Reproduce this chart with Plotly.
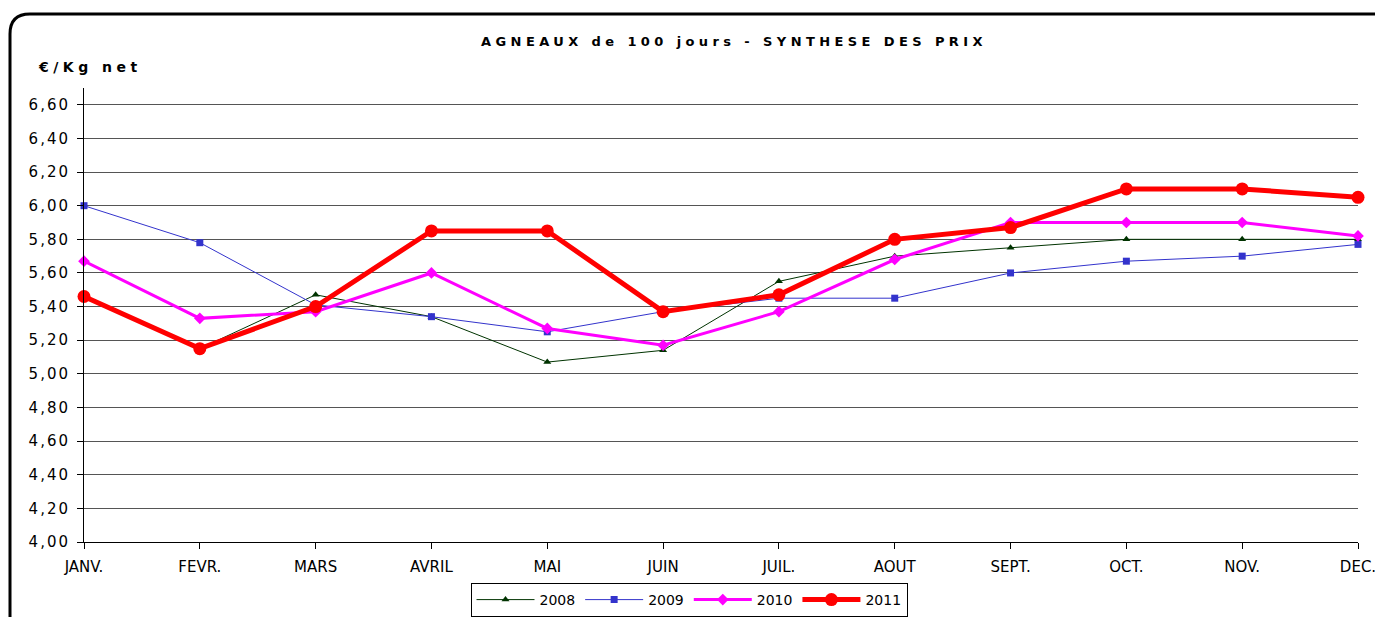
import plotly.graph_objects as go

# mois et prix (€/Kg net)
mois = ["JANV.", "FEVR.", "MARS", "AVRIL", "MAI", "JUIN",
        "JUIL.", "AOUT", "SEPT.", "OCT.", "NOV.", "DEC."]
prix_2008 = [5.46, 5.15, 5.47, 5.34, 5.07, 5.14, 5.55, 5.70, 5.75, 5.80, 5.80, 5.80]
prix_2009 = [6.00, 5.78, 5.41, 5.34, 5.25, 5.37, 5.45, 5.45, 5.60, 5.67, 5.70, 5.77]
prix_2010 = [5.67, 5.33, 5.37, 5.60, 5.27, 5.17, 5.37, 5.68, 5.90, 5.90, 5.90, 5.82]
prix_2011 = [5.46, 5.15, 5.40, 5.85, 5.85, 5.37, 5.47, 5.80, 5.87, 6.10, 6.10, 6.05]

y_ticks = [4.0 + 0.2 * i for i in range(14)]
y_labels = [f"{v:.2f}".replace(".", ",") for v in y_ticks]

# la page html ajoute 8px de marge : on decale tout
OFF = 8
W, H = 1383 - OFF, 617 - OFF
LBL = 70                      # bord droit des etiquettes de l'axe y (ref)
L, T = LBL - OFF, 88 - OFF
R = W - (1358 - OFF)
B = H - (542 - OFF)
pw, ph = W - L - R, H - T - B
dom0 = (84 - LBL) / pw        # debut de la zone de trace


def px(x, y):
    # pixel (image de reference) -> paper
    return (x - OFF - L) / pw, (H - B - (y - OFF)) / ph


def cont(x, y):
    # pixel (image de reference) -> container
    return (x - OFF) / W, 1 - (y - OFF) / H


series = [
    ("2008", prix_2008, "#003300", 1, "triangle-up", 7),
    ("2009", prix_2009, "#3333CC", 1, "square", 7),
    ("2010", prix_2010, "#FF00FF", 3, "diamond", 9),
    ("2011", prix_2011, "#FF0000", 5, "circle", 13),
]

fig = go.Figure()
x = list(range(len(mois)))
for name, vals, col, lw, sym, ms in series:
    fig.add_trace(go.Scatter(
        x=x, y=vals, name=name, mode="lines+markers",
        line=dict(color=col, width=lw),
        marker=dict(symbol=sym, size=ms, color=col),
        cliponaxis=False,
    ))
# trace vide pour porter l'axe des etiquettes y
fig.add_trace(go.Scatter(x=[], y=[], yaxis="y2", showlegend=False,
                         hoverinfo="skip"))

# cadre arrondi
x0, y0 = px(10, 625)
x1, y1 = px(10, 34)
x2, y2 = px(10, 14)
x3, y3 = px(30, 14)
x4, y4 = px(1400, 14)
path = f"M {x0},{y0} L {x1},{y1} Q {x2},{y2} {x3},{y3} L {x4},{y4}"

tx, ty = cont(734, 41)
lx, ly = cont(689, 583)
ux, uy = px(90, 67)

fig.update_layout(
    width=W, height=H,
    margin=dict(l=L, r=R, t=T, b=B),
    paper_bgcolor="white", plot_bgcolor="white",
    font=dict(family="DejaVu Sans", color="black", size=14),
    title=dict(text="<b>AGNEAUX de 100 jours - SYNTHESE DES PRIX</b>",
               xref="container", yref="container",
               x=tx, xanchor="center", y=ty, yanchor="middle",
               font=dict(size=13)),
    shapes=[dict(type="path", path=path, xref="paper", yref="paper",
                 line=dict(color="black", width=3))],
    annotations=[dict(text="<b>€/Kg net</b>", xref="paper", yref="paper",
                      x=ux, y=uy, xanchor="center",
                      yanchor="middle", showarrow=False, font=dict(size=14))],
    legend=dict(orientation="h", xref="container", yref="container",
                x=lx, y=ly, xanchor="center", yanchor="top",
                bordercolor="black", borderwidth=1, font=dict(size=14),
                itemwidth=58, tracegroupgap=0),
    showlegend=True,
    xaxis=dict(
        domain=[dom0, 1],
        tickmode="array", tickvals=x, ticktext=mois, range=[0, 11],
        showline=True, linecolor="black", linewidth=1, showgrid=False,
        ticks="outside", ticklen=6, tickcolor="black", zeroline=False,
        tickfont=dict(size=15), automargin=False, ticklabelstandoff=5,
    ),
    yaxis=dict(
        tickmode="array", tickvals=y_ticks, range=[4.0, 6.7],
        showticklabels=False,
        showline=True, linecolor="black", linewidth=1, showgrid=True,
        gridcolor="#555555", gridwidth=1, ticks="outside", ticklen=6,
        tickcolor="black", zeroline=False, automargin=False,
    ),
    # axe des etiquettes, un peu a gauche comme dans l'original
    yaxis2=dict(
        overlaying="y", anchor="free", position=0, side="left",
        tickmode="array", tickvals=y_ticks, ticktext=y_labels,
        range=[4.0, 6.7], showgrid=False, showline=False, ticks="",
        zeroline=False, tickfont=dict(size=15), automargin=False,
    ),
)

# espacement des lettres comme dans l'original (feuille de style)
post = """
var st = document.createElement('style');
st.textContent =
  '.gtitle { letter-spacing: 4.4px !important; }' +
  '.y2tick text { letter-spacing: 2px !important; }' +
  '.annotation-text { letter-spacing: 4.5px !important; }';
document.head.appendChild(st);
"""

fig.write_html("out.html", post_script=post)
